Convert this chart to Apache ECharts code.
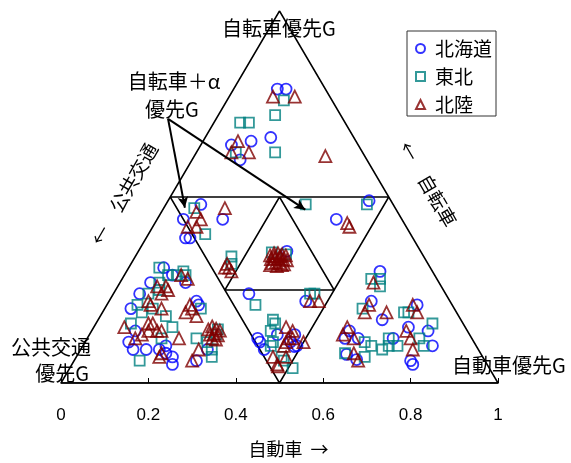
<!DOCTYPE html>
<html>
<head>
<meta charset="utf-8">
<script src="https://cdn.jsdelivr.net/npm/echarts@6/dist/echarts.min.js"></script>
<style>
html,body{margin:0;padding:0;background:#fff;}
#chart{width:571px;height:463px;}
</style>
</head>
<body>
<div id="chart"></div>
<script>
// Modal shares per city, as [自動車, 自転車]; 公共交通 = 1 - 自動車 - 自転車
const hokkaido = [
  [0.10,0.79],[0.12,0.79],[0.15,0.66],[0.11,0.65],[0.07,0.64],[0.11,0.60],
  [0.08,0.48],[0.15,0.44],[0.06,0.44],[0.09,0.39],[0.10,0.39],
  [0.46,0.49],[0.41,0.44],
  [0.340,0.354],
  [0.31,0.24],[0.45,0.22],
  [0.39,0.12],[0.40,0.11],[0.47,0.11],[0.49,0.10],[0.47,0.13],[0.43,0.13],[0.485,0.098],[0.42,0.09],
  [0.08,0.31],[0.11,0.29],[0.15,0.27],[0.07,0.27],[0.06,0.24],[0.06,0.20],[0.20,0.22],[0.21,0.21],
  [0.10,0.11],[0.12,0.09],[0.10,0.14],[0.15,0.09],[0.18,0.09],[0.19,0.10],[0.20,0.08],[0.22,0.07],
  [0.23,0.05],[0.28,0.06],[0.29,0.09],
  [0.58,0.30],[0.60,0.22],[0.65,0.17],[0.71,0.21],[0.77,0.14],[0.72,0.15],[0.80,0.10],[0.77,0.06],[0.78,0.05],
  [0.59,0.14],[0.59,0.12],[0.62,0.12],[0.70,0.12],[0.615,0.077],[0.645,0.063]
];
const tohoku = [
  [0.13,0.76],[0.06,0.70],[0.08,0.70],[0.13,0.72],[0.18,0.62],[0.09,0.62],
  [0.07,0.47],[0.13,0.40],
  [0.22,0.34],[0.23,0.32],
  [0.32,0.48],[0.46,0.48],
  [0.307,0.351],[0.342,0.346],
  [0.34,0.21],[0.45,0.24],[0.46,0.24],
  [0.40,0.17],[0.41,0.16],[0.41,0.14],[0.43,0.11],[0.43,0.10],[0.48,0.06],[0.51,0.04],[0.47,0.07],
  [0.07,0.31],[0.10,0.29],[0.12,0.29],[0.13,0.30],[0.14,0.29],[0.09,0.27],[0.10,0.25],[0.08,0.24],
  [0.07,0.21],[0.11,0.20],[0.09,0.19],[0.15,0.18],[0.18,0.15],[0.08,0.16],[0.15,0.06],[0.17,0.12],
  [0.22,0.20],[0.25,0.12],[0.28,0.11],[0.30,0.09],[0.31,0.07],[0.287,0.144],[0.29,0.13],
  [0.57,0.28],[0.59,0.28],[0.60,0.26],[0.59,0.20],[0.69,0.19],[0.70,0.19],[0.77,0.16],[0.76,0.12],[0.78,0.10],
  [0.64,0.11],[0.66,0.10],[0.69,0.09],[0.69,0.12],[0.70,0.10],[0.72,0.10],[0.61,0.08],[0.66,0.07]
];
const hokuriku = [
  [0.10,0.77],[0.15,0.77],[0.08,0.65],[0.12,0.62],[0.08,0.62],[0.30,0.61],
  [0.14,0.47],[0.08,0.46],[0.10,0.44],[0.08,0.42],[0.10,0.42],
  [0.22,0.31],[0.22,0.32],[0.24,0.30],[0.23,0.31],
  [0.44,0.43],[0.45,0.42],
  [0.307,0.343],[0.313,0.349],[0.322,0.349],[0.333,0.346],[0.343,0.343],[0.314,0.333],[0.322,0.335],
  [0.331,0.335],[0.342,0.333],[0.352,0.330],[0.322,0.322],[0.330,0.325],[0.340,0.322],[0.351,0.319],
  [0.320,0.317],[0.337,0.314],[0.347,0.317],[0.317,0.341],[0.331,0.341],
  [0.46,0.22],[0.48,0.22],
  [0.44,0.15],[0.46,0.14],[0.46,0.12],[0.47,0.12],[0.50,0.11],[0.46,0.11],[0.46,0.10],
  [0.45,0.07],[0.47,0.05],[0.474,0.045],[0.48,0.07],
  [0.13,0.29],[0.15,0.28],[0.09,0.26],[0.11,0.26],[0.12,0.25],[0.11,0.24],[0.09,0.22],[0.10,0.21],
  [0.13,0.20],[0.19,0.21],[0.20,0.20],[0.19,0.19],[0.22,0.18],[0.07,0.15],[0.12,0.16],[0.13,0.16],
  [0.15,0.14],[0.16,0.14],[0.13,0.14],[0.11,0.12],[0.12,0.13],[0.19,0.07],[0.19,0.08],[0.21,0.12],
  [0.27,0.09],[0.27,0.06],
  [0.265,0.144],[0.270,0.152],[0.282,0.146],[0.293,0.141],[0.276,0.130],[0.284,0.133],[0.295,0.128],
  [0.286,0.120],[0.296,0.117],
  [0.58,0.27],[0.60,0.19],[0.60,0.21],[0.65,0.19],[0.70,0.21],[0.72,0.19],[0.72,0.14],[0.74,0.12],
  [0.76,0.09],[0.58,0.15],[0.58,0.13],[0.61,0.12],[0.63,0.08],[0.65,0.06]
];
const seriesNames = ['北海道', '東北', '北陸'];
const xTicks = [0, 0.2, 0.4, 0.6, 0.8, 1];

// Region boundaries in the same [自動車, 自転車] shares
const outerTri = [[0,0],[1,0],[0,1],[0,0]];
const medialTri = [[0,0.5],[0.5,0.5],[0.5,0],[0,0.5]];
const innerTri = [[0.25,0.5],[0.5,0.25],[0.25,0.25],[0.25,0.5]];
// Callout from the "自転車＋α優先G" label to its two regions
const calloutFrom = [-0.11, 0.71];
const calloutTo = [[0.048, 0.471], [0.326, 0.466]];

const H = Math.sqrt(3) / 2;
const proj = ([car, bike]) => [car + bike / 2, bike * H];

const FONT = "'Noto Sans CJK JP', sans-serif";
const TXT = { fill: '#000', font: '20px ' + FONT };
const TXT19 = { fill: '#000', font: '19px ' + FONT };

function frame(pts) {
  return {
    type: 'line', data: pts.map(proj), symbol: 'none', silent: true,
    lineStyle: { color: '#000', width: 1.5 }, z: 1, animation: false
  };
}
function scatter(name, pts, symbol, size, color) {
  return {
    name, type: 'scatter', data: pts.map(proj), symbol, symbolSize: size,
    itemStyle: { color: 'rgba(0,0,0,0)', borderColor: color, borderWidth: 1.8 },
    z: 3, animation: false
  };
}

const chart = echarts.init(document.getElementById('chart'));
chart.setOption({
  animation: false,
  grid: { left: 61, right: 73, top: 11, bottom: 76 },
  xAxis: {
    type: 'value', min: 0, max: 1, interval: 0.2,
    axisLine: { lineStyle: { color: '#000', width: 1.5 } },
    axisTick: { inside: true, length: 5, lineStyle: { color: '#000' } },
    splitLine: { show: false },
    axisLabel: {
      color: '#000', fontSize: 17, fontFamily: 'Liberation Sans', margin: 24,
      formatter: v => xTicks.includes(+v.toFixed(1)) ? String(+v.toFixed(1)) : ''
    },
    name: '自動車  →', nameLocation: 'middle', nameGap: 57,
    nameTextStyle: { color: '#000', fontSize: 18, fontFamily: FONT, padding: [0, 0, 0, 18] }
  },
  yAxis: { type: 'value', min: 0, max: H, show: false },
  legend: {
    data: seriesNames, orient: 'vertical', left: 407, top: 31,
    backgroundColor: '#fff', borderColor: '#333', borderWidth: 1,
    padding: [8, 4, 2, 8], itemGap: 9, itemWidth: 9, itemHeight: 9,
    textStyle: { color: '#000', fontSize: 19, fontFamily: FONT, padding: [0, 0, 0, 5] }
  },
  series: [
    frame(outerTri), frame(medialTri), frame(innerTri),
    scatter(seriesNames[0], hokkaido, 'circle', 11, '#0000ff'),
    scatter(seriesNames[1], tohoku, 'rect', 10, '#008080'),
    scatter(seriesNames[2], hokuriku, 'triangle', 12, '#800000'),
    {
      type: 'line', data: [], silent: true, animation: false,
      markLine: {
        silent: true, symbol: ['none', 'arrow'], symbolSize: [8, 11],
        label: { show: false },
        lineStyle: { color: '#000', width: 2, type: 'solid' },
        data: calloutTo.map(t => [{ coord: proj(calloutFrom) }, { coord: proj(t) }])
      }
    }
  ],
  graphic: [
    { type: 'text', x: 279, y: 28, style: Object.assign({ text: '自転車優先G', textAlign: 'center', textVerticalAlign: 'middle' }, TXT) },
    { type: 'text', x: 174, y: 81, style: Object.assign({ text: '自転車＋α', textAlign: 'center', textVerticalAlign: 'middle' }, TXT) },
    { type: 'text', x: 172, y: 109, style: Object.assign({ text: '優先G', textAlign: 'center', textVerticalAlign: 'middle' }, TXT) },
    { type: 'text', x: 91, y: 347, style: Object.assign({ text: '公共交通', textAlign: 'right', textVerticalAlign: 'middle' }, TXT) },
    { type: 'text', x: 89, y: 373, style: Object.assign({ text: '優先G', textAlign: 'right', textVerticalAlign: 'middle' }, TXT) },
    { type: 'text', x: 452, y: 365, style: Object.assign({ text: '自動車優先G', textAlign: 'left', textVerticalAlign: 'middle' }, TXT) },
    { type: 'text', x: 124, y: 194, rotation: Math.PI / 3, style: Object.assign({ text: '←　公共交通', textAlign: 'center', textVerticalAlign: 'middle' }, TXT19) },
    { type: 'text', x: 428, y: 184, rotation: -Math.PI / 3, style: Object.assign({ text: '←　自転車', textAlign: 'center', textVerticalAlign: 'middle' }, TXT19) }
  ]
});
</script>
</body>
</html>
